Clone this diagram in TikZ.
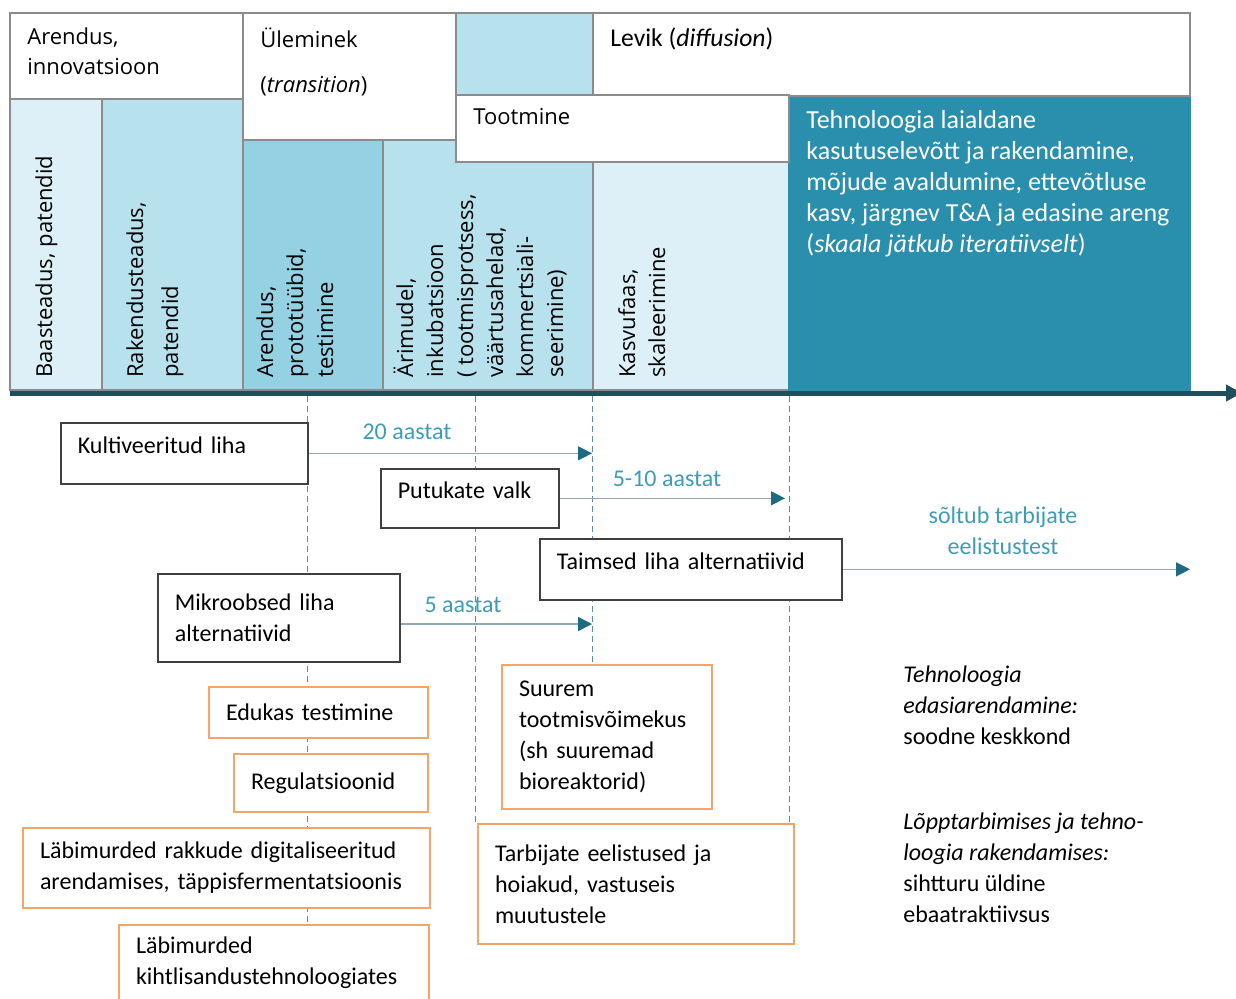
\documentclass[tikz,border=0pt]{standalone}
\usepackage{fontspec}
\setmainfont{Carlito}
\newfontfamily\osans{Open Sans}
\usetikzlibrary{arrows.meta}
\definecolor{pale}{HTML}{DDF0F7}
\definecolor{lightb}{HTML}{B7E1EC}
\definecolor{midb}{HTML}{93D1E3}
\definecolor{deepb}{HTML}{2A8FAD}
\definecolor{axisc}{HTML}{1F4E5F}
\definecolor{tipc}{HTML}{1D6A82}
\definecolor{linec}{HTML}{8FAAB4}
\definecolor{guidec}{HTML}{5E8E9E}
\definecolor{labc}{HTML}{3E9DB6}
\definecolor{orng}{HTML}{F4A468}
\definecolor{framec}{HTML}{8C8C8C}
\definecolor{boxc}{HTML}{404040}

\begin{document}
\begin{tikzpicture}[x=0.5pt,y=-0.5pt,
  every node/.style={inner sep=0pt},
  cell/.style={draw=framec, line width=0.6pt},
  head/.style={anchor=north west, align=left, font=\osans\fontsize{11}{15}\selectfont},
  vtext/.style={head, rotate=90},
  note/.style={anchor=north west, align=left, font=\fontsize{12}{15.5}\selectfont},
  box/.style={draw=boxc, line width=0.8pt, fill=white, anchor=north west, align=left,
    inner xsep=8.5pt, font=\fontsize{12}{15.5}\selectfont},
  obox/.style={box, draw=orng, line width=1pt},
  conn/.style={draw=linec, line width=0.7pt, -{Triangle[length=7pt,width=7pt,color=tipc]}},
  years/.style={text=labc, font=\fontsize{12}{15.5}\selectfont, align=center},
  guide/.style={draw=guidec, line width=0.4pt, dash pattern=on 3pt off 2pt}]

  \useasboundingbox (0,0) rectangle (1236,998);

  % phase columns
  \draw[cell, fill=pale] (10,99) rectangle (102,390);
  \draw[cell, fill=lightb] (102,99) rectangle (243,390);
  \draw[cell, fill=midb] (243,140) rectangle (383,390);
  \draw[cell, fill=lightb] (383,140) rectangle (593,390);
  \draw[cell, fill=pale] (593,162) rectangle (789,390);
  \draw[cell, fill=deepb, draw=deepb] (789,96) rectangle (1190,390);

  % header row
  \draw[cell, fill=white] (10,13) rectangle (243,99);
  \draw[cell, fill=white] (243,13) rectangle (456,140);
  \draw[cell, fill=lightb] (456,13) rectangle (593,95);
  \draw[cell, fill=white] (593,13) rectangle (1190,96);
  \draw[cell, fill=white] (456,95) rectangle (789,162);

  \node[head] (arin) at (27,27) {Arendus,\\innovatsioon};
  \node[head] (ulem) at (260,27) {Üleminek\\[7.5pt](\textit{transition})};
  \node[head, font=\fontsize{12.8}{15.5}\selectfont] (levik) at (610,27) {Levik (\textit{diffusion})};
  \node[head] (toot) at (473,108) {Tootmine};

  \node[vtext] (baas) at (35,378) {Baasteadus, patendid};
  \node[vtext] (rak) at (126,378) {Rakendusteadus,\\[2.5pt]patendid};
  \node[vtext] (proto) at (256,378) {Arendus,\\prototüübid,\\testimine};
  \node[vtext] (ari) at (393,378) {Ärimudel,\\inkubatsioon\\( tootmisprotsess,\\väärtusahelad,\\kommertsiali-\\seerimine)};
  \node[vtext] (kasv) at (618,378) {Kasvufaas,\\skaleerimine};

  \node[note, text=white, font=\fontsize{13}{15.5}\selectfont] (laial) at (806,110) {Tehnoloogia laialdane\\kasutuselevõtt ja rakendamine,\\mõjude avaldumine, ettevõtluse\\kasv, järgnev T\&A ja edasine areng\\(\textit{skaala jätkub iteratiivselt})};

  % time axis
  \draw[axisc, line width=2.5pt, -{Triangle[length=8pt,width=8pt]}] (10,393) -- (1242,393);

  % guide lines
  \draw[guide] (307,396) -- (307,922);
  \draw[guide] (475,396) -- (475,822);
  \draw[guide] (592,396) -- (592,664);
  \draw[guide] (789,396) -- (789,822);

  % products
  \node[box, minimum width=123.5pt, minimum height=30.5pt, text width=106.5pt, text depth=8pt] (kult) at (60,422) {Kultiveeritud liha};
  \node[box, minimum width=89pt, minimum height=29.5pt, text width=72pt, text depth=8pt] (putu) at (380,468) {Putukate valk};
  \node[box, minimum width=151pt, minimum height=30.5pt, text width=134pt, text depth=8pt] (taim) at (539,538) {Taimsed liha alternatiivid};
  \node[box, minimum width=121pt, minimum height=44pt, text width=104pt] (mikro) at (157,573) {Mikroobsed liha\\alternatiivid};

  \coordinate (e20) at (592,452);
  \coordinate (e510) at (785,497);
  \coordinate (eend) at (1190,570);
  \coordinate (e5) at (592,624);
  \draw[conn] (kult.east) -- (kult.east -| e20);
  \draw[conn] (putu.east) -- (putu.east -| e510);
  \draw[conn] (taim.east) -- (taim.east -| eend);
  \draw[conn] (mikro.east |- e5) -- (e5);

  \node[years] (l20) at (407,432) {20 aastat};
  \node[years] (l510) at (667,479) {5-10 aastat};
  \node[years] (lpref) at (1003,531) {sõltub tarbijate\\eelistustest};
  \node[years] (l5) at (463,605) {5 aastat};

  % factors
  \node[obox, minimum width=109.5pt, minimum height=25.5pt, text width=92.5pt] (test) at (208,686) {Edukas testimine};
  \node[obox, minimum width=97pt, minimum height=29pt, text width=80pt] (reg) at (233,753) {Regulatsioonid};
  \node[obox, minimum width=203.5pt, minimum height=40pt, text width=186.5pt] (rakk) at (22,827) {Läbimurded rakkude digitaliseeritud\\arendamises, täppisfermentatsioonis};
  \node[obox, minimum width=155pt, minimum height=38pt, text width=138pt] (kiht) at (118,924) {Läbimurded\\kihtlisandustehnoloogiates};
  \node[obox, minimum width=105pt, minimum height=72pt, text width=88pt] (suur) at (501,664) {Suurem\\tootmisvõimekus\\(sh suuremad\\bioreaktorid)};
  \node[obox, minimum width=158pt, minimum height=60pt, text width=141pt] (tarb) at (477,823) {Tarbijate eelistused ja\\hoiakud, vastuseis\\muutustele};

  \node[note] (edasi) at (903,665) {\textit{Tehnoloogia}\\\textit{edasiarendamine:}\\soodne keskkond};
  \node[note] (lopp) at (903,812) {\textit{Lõpptarbimises ja tehno-}\\\textit{loogia rakendamises:}\\sihtturu üldine\\ebaatraktiivsus};
\end{tikzpicture}
\end{document}
